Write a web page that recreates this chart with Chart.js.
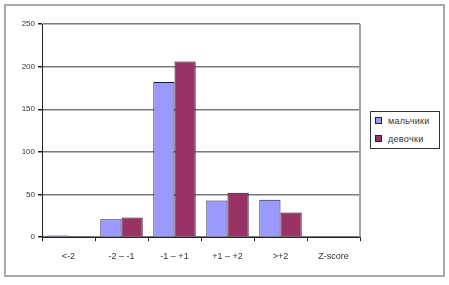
<!DOCTYPE html>
<html><head><meta charset="utf-8">
<script src="https://cdn.jsdelivr.net/npm/chart.js@4/dist/chart.umd.min.js"></script>
<style>
html,body{margin:0;padding:0;background:#fff;width:449px;height:285px;overflow:hidden}
#frame{position:absolute;left:4px;top:4px;width:437px;height:269px;border:2px solid #a8a8a8;}
#wrap{position:absolute;left:0;top:0;width:449px;height:285px}
#legend{position:absolute;left:370px;top:111px;width:68px;height:36px;border:1px solid #333;background:#fff;font-family:'Liberation Sans',Arial,sans-serif;font-size:9px;color:#333;}
#legend .item{position:absolute;left:4px;height:12px;line-height:12px;white-space:nowrap;letter-spacing:0.3px}
#legend .sw{display:inline-block;width:5px;height:5px;border:1px solid #222;margin-right:6px;vertical-align:0px}
</style></head>
<body>
<div id="frame"></div>
<div id="wrap"><canvas id="c" width="449" height="285"></canvas></div>
<div id="legend"></div>
<script>
const categories = ['<-2', '-2 – -1', '-1 – +1', '+1 – +2', '>+2', 'Z-score'];
const boys = [2, 21, 182, 43, 44, null];
const girls = [1, 23, 206, 52, 29, null];
const seriesNames = ['мальчики', 'девочки'];
const seriesColors = ['#9999ff', '#993366'];
const yTicks = [0, 50, 100, 150, 200, 250];

const extras = {
  id: 'extras',
  afterDraw(chart) {
    const ctx = chart.ctx, a = chart.chartArea;
    ctx.save();
    ctx.strokeStyle = '#a0a0a0';
    ctx.lineWidth = 2;
    ctx.beginPath();
    ctx.moveTo(a.right, a.top);
    ctx.lineTo(a.right, a.bottom);
    ctx.stroke();
    ctx.restore();
  }
};

const chart = new Chart(document.getElementById('c'), {
  type: 'bar',
  data: {
    labels: categories,
    datasets: [
      { label: seriesNames[0], data: boys, backgroundColor: seriesColors[0], borderColor: '#1a1a40', borderWidth: 1, categoryPercentage: 0.8, barPercentage: 1.0 },
      { label: seriesNames[1], data: girls, backgroundColor: seriesColors[1], borderColor: '#2a0a1a', borderWidth: 1, categoryPercentage: 0.8, barPercentage: 1.0 }
    ]
  },
  options: {
    responsive: false,
    animation: false,
    layout: { padding: { left: 10, top: 24, right: 89, bottom: 13 } },
    plugins: {
      tooltip: { enabled: false },
      legend: { display: false }
    },
    scales: {
      x: {
        grid: { display: true, drawOnChartArea: false, drawTicks: true, tickLength: 4, color: '#222', offset: true },
        border: { color: '#222', width: 1 },
        ticks: { color: '#333', font: { family: 'Liberation Sans, Arial', size: 9 }, padding: 10, maxRotation: 0 }
      },
      y: {
        min: 0, max: 250,
        afterBuildTicks(scale) { scale.ticks = yTicks.map(v => ({ value: v })); },
        afterFit(scale) { scale.width = 32; },
        grid: { color: '#7a7a7a', lineWidth: 1.5, tickLength: 4, tickColor: '#222' },
        border: { color: '#222', width: 1 },
        ticks: { color: '#333', font: { family: 'Liberation Sans, Arial', size: 8 }, padding: 3 }
      }
    }
  },
  plugins: [extras]
});

// HTML legend built from the chart's datasets
const lg = document.getElementById('legend');
chart.data.datasets.forEach((ds, i) => {
  const it = document.createElement('div');
  it.className = 'item';
  it.style.top = (3 + i * 18) + 'px';
  const sw = document.createElement('span');
  sw.className = 'sw';
  sw.style.background = ds.backgroundColor;
  it.appendChild(sw);
  it.appendChild(document.createTextNode(ds.label));
  lg.appendChild(it);
});
</script>
</body></html>
